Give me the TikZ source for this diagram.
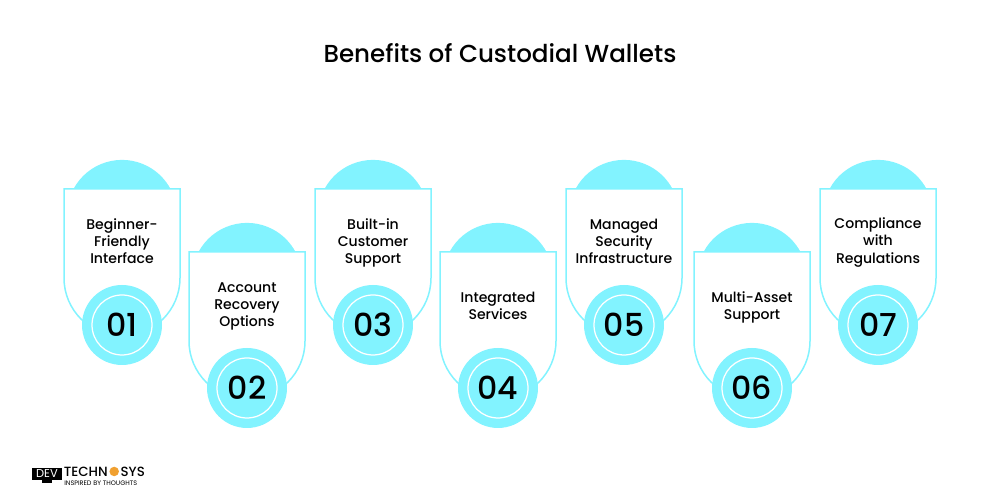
\documentclass[tikz,border=0pt]{standalone}
\usepackage{fontspec}
\setmainfont{Poppins}
\newfontfamily\medfont{Poppins Medium}
\usepackage{xcolor}
\usetikzlibrary{positioning}
\definecolor{wallcyan}{HTML}{82F3FF}
\definecolor{logogold}{HTML}{F0A030}
\tikzset{
	cardline/.style={draw=wallcyan,line width=0.03cm,fill=white},
	domefill/.style={fill=wallcyan},
	numdisc/.style={circle,fill=wallcyan,minimum size=1.6cm,inner sep=0pt},
	numring/.style={circle,draw=white,line width=0.025cm,minimum size=1.2cm,inner sep=0pt,font=\medfont\fontsize{18}{20}\selectfont},
	cardtext/.style={align=center,font=\medfont\fontsize{8}{9.7}\selectfont,text=black}
}
\begin{document}
\begin{tikzpicture}
	\useasboundingbox (0,0) rectangle (20,10);
	\node[font=\medfont\fontsize{14}{18}\selectfont] (title) at (10,8.93) {Benefits of Custodial Wallets};
	% domes
	\fill[domefill] (1.47,6.22) arc (151.9:28.1:1.1) -- cycle;
	\fill[domefill] (3.97,4.96) arc (151.9:28.1:1.1) -- cycle;
	\fill[domefill] (6.49,6.22) arc (151.9:28.1:1.1) -- cycle;
	\fill[domefill] (8.99,4.96) arc (151.9:28.1:1.1) -- cycle;
	\fill[domefill] (11.51,6.22) arc (151.9:28.1:1.1) -- cycle;
	\fill[domefill] (14.07,4.96) arc (151.9:28.1:1.1) -- cycle;
	\fill[domefill] (16.59,6.22) arc (151.9:28.1:1.1) -- cycle;
	% cards
	\draw[cardline] (1.28,6.22) -- (3.6,6.22) -- (3.6,4.44) arc (0:-180:1.16) -- cycle;
	\draw[cardline] (3.78,4.96) -- (6.1,4.96) -- (6.1,3.18) arc (0:-180:1.16) -- cycle;
	\draw[cardline] (6.3,6.22) -- (8.62,6.22) -- (8.62,4.44) arc (0:-180:1.16) -- cycle;
	\draw[cardline] (8.8,4.96) -- (11.12,4.96) -- (11.12,3.18) arc (0:-180:1.16) -- cycle;
	\draw[cardline] (11.32,6.22) -- (13.64,6.22) -- (13.64,4.44) arc (0:-180:1.16) -- cycle;
	\draw[cardline] (13.88,4.96) -- (16.2,4.96) -- (16.2,3.18) arc (0:-180:1.16) -- cycle;
	\draw[cardline] (16.4,6.22) -- (18.72,6.22) -- (18.72,4.44) arc (0:-180:1.16) -- cycle;
	% labels
	\node[cardtext] (text1) at (2.44,5.17) {Beginner-\\Friendly\\Interface};
	\node[cardtext] (text2) at (4.94,3.87) {Account\\Recovery\\Options};
	\node[cardtext] (text3) at (7.46,5.15) {Built-in\\Customer\\Support};
	\node[cardtext] (text4) at (9.96,3.89) {Integrated\\Services};
	\node[cardtext] (text5) at (12.48,5.17) {Managed\\Security\\Infrastructure};
	\node[cardtext] (text6) at (15.04,3.85) {Multi-Asset\\Support};
	\node[cardtext] (text7) at (17.56,5.15) {Compliance\\with\\Regulations};
	% numbers
	\node[numdisc] (disc1) at (2.44,3.5) {};
	\node[numring] (num1) at (disc1) {01};
	\node[numdisc] (disc2) at (4.94,2.24) {};
	\node[numring] (num2) at (disc2) {02};
	\node[numdisc] (disc3) at (7.46,3.5) {};
	\node[numring] (num3) at (disc3) {03};
	\node[numdisc] (disc4) at (9.96,2.24) {};
	\node[numring] (num4) at (disc4) {04};
	\node[numdisc] (disc5) at (12.48,3.5) {};
	\node[numring] (num5) at (disc5) {05};
	\node[numdisc] (disc6) at (15.04,2.24) {};
	\node[numring] (num6) at (disc6) {06};
	\node[numdisc] (disc7) at (17.56,3.5) {};
	\node[numring] (num7) at (disc7) {07};
	% logo
	\fill[black] (0.64,0.63) rectangle (1.24,0.4);
	\fill[black] (0.84,0.4) rectangle (1.04,0.34);
	\node[text=white,font=\fontsize{6.5}{7}\selectfont,inner sep=0pt] (logodev) at (0.94,0.52) {DEV};
	\node[font=\medfont\fontsize{7.6}{8}\selectfont,inner sep=0pt,anchor=west] (logotech) at (1.27,0.57) {TECHN};
	\node[circle,fill=logogold,minimum size=0.19cm,inner sep=0pt,right=0.02cm of logotech] (logogear) {};
	\node[font=\medfont\fontsize{7.6}{8}\selectfont,inner sep=0pt,right=0.02cm of logogear] (logosys) {SYS};
	\node[font=\fontsize{3.7}{4}\selectfont,inner sep=0pt,anchor=west] (logotag) at (1.28,0.33) {INSPIRED BY THOUGHTS};
\end{tikzpicture}
\end{document}
